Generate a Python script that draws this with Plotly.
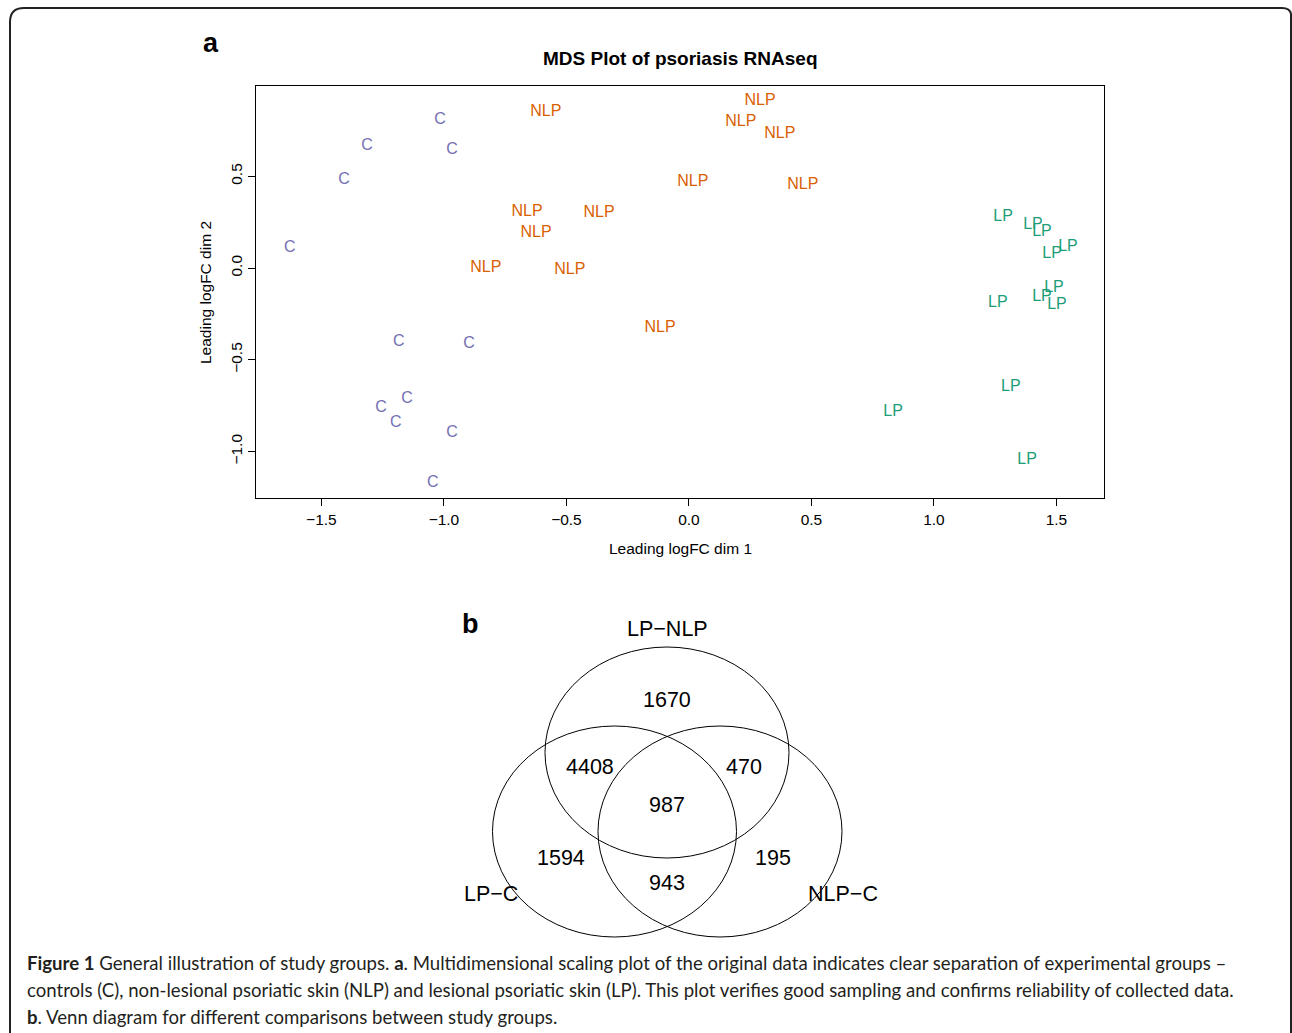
import plotly.graph_objects as go

W, H = 1292, 1033

# ---- MDS data ----
c_x = [-1.016, -1.314, -0.967, -1.408, -1.629, -1.184, -0.898, -1.151, -1.257, -1.196, -0.967, -1.045]
c_y = [0.807, 0.665, 0.643, 0.480, 0.109, -0.403, -0.414, -0.714, -0.763, -0.845, -0.899, -1.172]
nlp_x = [-0.584, 0.290, 0.212, 0.371, 0.016, 0.465, -0.661, -0.367, -0.624, -0.829, -0.486, -0.118]
nlp_y = [0.850, 0.910, 0.796, 0.730, 0.469, 0.452, 0.305, 0.300, 0.191, 0.000, -0.011, -0.327]
lp_x = [1.282, 1.404, 1.441, 1.482, 1.547, 1.490, 1.441, 1.502, 1.261, 1.314, 0.833, 1.380]
lp_y = [0.278, 0.234, 0.196, 0.076, 0.114, -0.109, -0.158, -0.202, -0.191, -0.649, -0.785, -1.046]
groups = ["C", "NLP", "LP"]
group_colors = ["#7570B3", "#D95F02", "#1B9E77"]
tick_vals_x = [-1.5, -1.0, -0.5, 0.0, 0.5, 1.0, 1.5]
tick_text_x = ["\u22121.5", "\u22121.0", "\u22120.5", "0.0", "0.5", "1.0", "1.5"]
tick_vals_y = [0.5, 0.0, -0.5, -1.0]
tick_text_y = ["0.5", "0.0", "\u22120.5", "\u22121.0"]

# ---- Venn data ----
venn_sets = ["LP\u2212NLP", "LP\u2212C", "NLP\u2212C"]
venn_counts = ["1670", "4408", "470", "987", "1594", "195", "943"]

FONT = "Liberation Sans, Arial, sans-serif"

fig = go.Figure()

series = [(c_x, c_y), (nlp_x, nlp_y), (lp_x, lp_y)]
for (xs, ys), g, col in zip(series, groups, group_colors):
    fig.add_trace(go.Scatter(
        x=xs, y=ys, mode="text", text=[g] * len(xs),
        textposition="middle center",
        textfont=dict(family=FONT, size=16, color=col),
        showlegend=False, hoverinfo="skip", xaxis="x", yaxis="y"))

# invisible trace for pixel overlay axes
fig.add_trace(go.Scatter(x=[0], y=[0], mode="markers", marker=dict(opacity=0),
                         showlegend=False, hoverinfo="skip", xaxis="x2", yaxis="y2"))

L, R, T, B = 256, 1104, 86, 498
fig.update_layout(
    width=W, height=H,
    margin=dict(l=0, r=0, t=0, b=0),
    paper_bgcolor="white", plot_bgcolor="rgba(0,0,0,0)",
    xaxis=dict(domain=[L / W, R / W], range=[-1.767, 1.694], anchor="y",
               showline=True, mirror=True, linecolor="black", linewidth=1,
               ticks="outside", ticklen=7, tickcolor="black", tickwidth=1,
               tickvals=tick_vals_x, ticktext=tick_text_x,
               tickfont=dict(family=FONT, size=15.5, color="black"),
               showgrid=False, zeroline=False),
    yaxis=dict(domain=[1 - B / H, 1 - T / H], range=[-1.253, 0.992], anchor="x",
               showline=True, mirror=True, linecolor="black", linewidth=1,
               ticks="outside", ticklen=7, tickcolor="black", tickwidth=1,
               tickvals=tick_vals_y, ticktext=tick_text_y, tickangle=-90,
               tickfont=dict(family=FONT, size=15.5, color="black"),
               showgrid=False, zeroline=False),
    xaxis2=dict(domain=[0, 1], range=[0, W], visible=False, anchor="y2"),
    yaxis2=dict(domain=[0, 1], range=[H, 0], visible=False, anchor="x2"),
)

def ann(x, y, text, size, bold=False, angle=0, color="black", family=FONT, xanchor="center"):
    fig.add_annotation(x=x, y=y, xref="x2", yref="y2", text=("<b>%s</b>" % text) if bold else text,
                       showarrow=False, textangle=angle, xanchor=xanchor, yanchor="middle",
                       font=dict(family=family, size=size, color=color))

# outer rounded border (pixel coords)
fig.add_shape(type="path", xref="x2", yref="y2",
              path="M 10,1045 L 10,22 Q 10,8 24,8 L 1282,8 Q 1290,8 1291,14 L 1291,1045",
              line=dict(color="#222222", width=2))

# panel a texts
ann(211, 43, "a", 27, bold=True)
ann(680, 58, "MDS Plot of psoriasis RNAseq", 19, bold=True)
ann(680, 548, "Leading logFC dim 1", 15.5)
ann(205, 293, "Leading logFC dim 2", 15.5, angle=-90)

# panel b Venn
venn_centers = [(667, 752.5), (614.5, 831.5), (720, 831.5)]
venn_rx, venn_ry = 122, 105.5
for cx, cy in venn_centers:
    fig.add_shape(type="circle", xref="x2", yref="y2",
                  x0=cx - venn_rx, x1=cx + venn_rx, y0=cy - venn_ry, y1=cy + venn_ry,
                  line=dict(color="black", width=1))
ann(470, 624, "b", 27, bold=True)
set_label_pos = [(667, 629), (491, 894), (843, 894)]
for (px, py), s in zip(set_label_pos, venn_sets):
    ann(px, py, s, 21.5)
count_pos = [(667, 700), (590, 767), (744, 767), (667, 805), (561, 858), (773, 858), (667, 883)]
for (px, py), s in zip(count_pos, venn_counts):
    ann(px, py, s, 21.5)

# caption
CAP = "Lato, Open Sans, sans-serif"
ann(25, 963, "<b>Figure 1</b> General illustration of study groups. <b>a</b>. Multidimensional scaling plot of the original data indicates clear separation of experimental groups \u2013",
    18.6, family=CAP, xanchor="left", color="#231f20")
ann(25, 990, "controls (C), non-lesional psoriatic skin (NLP) and lesional psoriatic skin (LP). This plot verifies good sampling and confirms reliability of collected data.",
    18.6, family=CAP, xanchor="left", color="#231f20")
ann(25, 1017, "<b>b</b>. Venn diagram for different comparisons between study groups.",
    18.6, family=CAP, xanchor="left", color="#231f20")

fig.write_html("out.html", config={"displayModeBar": False},
               post_script="document.body.style.margin='0';document.body.style.overflow='hidden';")
